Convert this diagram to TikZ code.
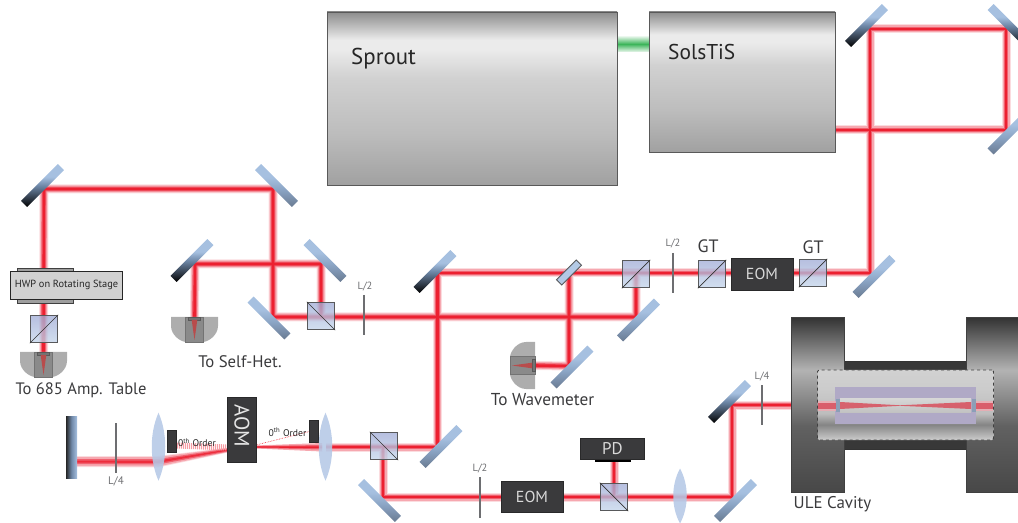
\documentclass[tikz,border=0pt]{standalone}
\usepackage{fontspec}
\setmainfont{PT Sans}
\usetikzlibrary{calc}
\pgfdeclarelayer{beams}
\pgfsetlayers{beams,main}
\definecolor{halo}{HTML}{FBDCDF}
\definecolor{halob}{HTML}{F6A8B0}
\definecolor{mid}{HTML}{F0606E}
\definecolor{core}{HTML}{EC2030}
\definecolor{mblue}{HTML}{A6C0E0}
\definecolor{mslate}{HTML}{6A7B92}
\definecolor{mmid}{HTML}{6F88A8}
\definecolor{boxdark}{HTML}{3A3A3C}
\definecolor{edge}{HTML}{58595B}
\definecolor{lensblue}{HTML}{B5C8E6}
\definecolor{txt}{HTML}{3A3A3C}
\definecolor{wpgrey}{HTML}{6D6E71}
\definecolor{spacerc}{HTML}{B0A9C6}
\definecolor{greenc}{HTML}{3CB55A}
\pgfdeclareverticalshading{mirblack}{100bp}{color(0bp)=(black);color(25bp)=(black);color(32bp)=(black!70!mmid);color(50bp)=(mmid);color(60bp)=(mblue);color(100bp)=(mblue)}
\pgfdeclareverticalshading{mirslate}{100bp}{color(0bp)=(mslate);color(25bp)=(mslate);color(45bp)=(mmid!50!mblue);color(60bp)=(mblue);color(100bp)=(mblue)}
\pgfdeclareverticalshading{housing}{100bp}{color(0bp)=(black!37);color(25bp)=(black!37);color(40bp)=(black!26);color(56bp)=(black!18);color(64bp)=(black!8);color(67bp)=(black!8);color(75bp)=(black!45);color(100bp)=(black!45)}
\pgfdeclareverticalshading{flange}{100bp}{color(0bp)=(black!72);color(25bp)=(black!72);color(44bp)=(black!62);color(60bp)=(black!30);color(75bp)=(black!80);color(100bp)=(black!80)}
\pgfdeclareverticalshading{insetsh}{100bp}{color(0bp)=(black!20);color(25bp)=(black!20);color(36bp)=(black!48);color(44bp)=(black!26);color(62bp)=(black!20);color(75bp)=(black!18);color(100bp)=(black!18)}
\tikzset{
  x=1bp,y=-1bp,
  beamwide/.style={draw=halo,line width=9bp,line join=miter},
  beamwideb/.style={draw=halob,line width=7bp,line join=miter},
  beammid/.style={draw=mid,line width=4.8bp,line join=miter},
  beamcore/.style={draw=core,line width=2.6bp,line join=miter},
  mirrorbar/.style={rectangle,inner sep=0pt,minimum width=52bp,minimum height=8.5bp},
  bscube/.style={rectangle,inner sep=0pt,minimum width=27.5bp,minimum height=27.5bp,draw=edge,line width=.9bp,top color=mblue!90!violet,bottom color=mblue!65!white,fill opacity=.78},
  darkbox/.style={rectangle,inner sep=0pt,fill=boxdark,draw=boxdark!70!black,line width=.8bp,text=black!15,align=center},
  plate/.style={draw=wpgrey,line width=1.3bp},
  wplab/.style={font=\fontsize{10.5}{12}\selectfont,text=wpgrey,inner sep=0pt},
  lab/.style={font=\fontsize{16.8}{20}\selectfont,text=txt,inner sep=0pt},
  gtlab/.style={font=\fontsize{18}{20}\selectfont,text=txt,inner sep=0pt},
  ordlab/.style={font=\fontsize{9.7}{11}\selectfont,text=black!85,inner sep=0pt},
  lensshape/.style={fill=lensblue,fill opacity=.88,draw=none},
}
% name, x, y, rotation (top of bar is the blue face), shading
\newcommand\mirr[5]{\node[mirrorbar,rotate=#4,shading=#5] (#1) at (#2,#3) {};}
\newcommand\bcube[4]{\node[bscube] (#1) at (#2,#3) {};
  \ifnum#4=1 \draw[black!80,line width=.7bp] (#1.south west)--(#1.north east);\else \draw[black!80,line width=.7bp] (#1.north west)--(#1.south east);\fi}
\newcommand\lens[4]{\coordinate (#1) at (#2,#3);
  \path[lensshape] ($(#1)+(0,-#4)$) .. controls ($(#1)+(9,-#4*.4)$) and ($(#1)+(9,#4*.4)$) .. ($(#1)+(0,#4)$) .. controls ($(#1)+(-9,#4*.4)$) and ($(#1)+(-9,-#4*.4)$) .. cycle;}
\newcommand\detector[4]{%
  \begin{scope}[shift={(#2,#3)},rotate=#4]
    \coordinate (#1) at (0,0);
    \fill[black!32] (-23.5,0)--(23.5,0)--(23.5,9) .. controls (23.5,18) and (14,25) .. (8,25)--(-8,25) .. controls (-14,25) and (-23.5,18) .. (-23.5,9)--cycle;
    \fill[black!46,draw=black!55,line width=.5bp] (-9,0) rectangle (9,25);
    \fill[black!55,draw=black!65,line width=.4bp] (-6,0) rectangle (6,3);
    \fill[red!60!black!70] (-2.8,3)--(2.8,3)--(0,23)--cycle;
  \end{scope}}
\begin{document}
\begin{tikzpicture}
\clip (0,0) rectangle (1018,523);
\useasboundingbox (0,0) rectangle (1018,523);

% Lasers
\node[rectangle,inner sep=0pt,minimum width=290bp,minimum height=173bp,draw=black!65,line width=.8bp,shading=housing] (sprout) at (472,98.5) {};
\node[anchor=west,font=\fontsize{23}{26}\selectfont,text=black!85,inner sep=0pt] (sproutl) at (351,58.5) {Sprout};
\node[rectangle,inner sep=0pt,minimum width=186bp,minimum height=140bp,draw=black!65,line width=.8bp,shading=housing] (solstis) at (742,82) {};
\node[anchor=west,font=\fontsize{21.5}{26}\selectfont,text=black!85,inner sep=0pt] (solstisl) at (668,52) {SolsTiS};

% Mirrors
\mirr{m1}{42.5}{185.5}{225}{mirblack}
\mirr{m2}{276.5}{185.5}{135}{mirslate}
\mirr{m3}{192}{260.5}{225}{mirblack}
\mirr{m4}{325}{260.5}{135}{mirslate}
\mirr{m5}{269}{318}{-45}{mirslate}
\mirr{m6}{435}{271.5}{225}{mirblack}
\mirr{m7}{441}{446.5}{45}{mirslate}
\mirr{m8}{638.5}{320}{45}{mirslate}
\mirr{m9}{572}{367}{45}{mirslate}
\mirr{m10}{874}{276.5}{45}{mirslate}
\mirr{m11}{866.5}{25.5}{225}{mirblack}
\mirr{m12}{1009}{25.5}{135}{mirblack}
\mirr{m13}{1009}{133}{45}{mirslate}
\mirr{m14}{379.5}{500.5}{-45}{mirslate}
\mirr{m15}{735.5}{500.5}{45}{mirslate}
\mirr{m16}{729.5}{401.5}{225}{mirblack}
\node[rectangle,inner sep=0pt,minimum width=11bp,minimum height=62bp,left color=black!85,right color=mblue,middle color=mmid] (endm) at (71.5,447) {};

% Beam corners
\coordinate (h1) at (1006,130);
\coordinate (h2) at (1006,29);
\coordinate (h3) at (870,29);
\coordinate (h4) at (870,273);
\coordinate (h5) at (437.5,273);
\coordinate (h6) at (437.5,447);
\coordinate (h7) at (383,497);
\coordinate (h8) at (732,497);
\coordinate (h9) at (732,405);
\coordinate (h10) at (636,317);
\coordinate (h11) at (273,317);
\coordinate (h12) at (273,189);
\coordinate (h13) at (44,189);
\coordinate (h14) at (321,264);
\coordinate (h15) at (195,264);
\coordinate (h16) at (569,366);

% Cavity
\node[rectangle,inner sep=0pt,minimum width=125bp,minimum height=88bp,draw=black!80,line width=.8bp,fill=black!78] (cavbody) at (905,405) {};
\node[rectangle,inner sep=0pt,minimum width=53bp,minimum height=175bp,draw=black!75,line width=.8bp,shading=flange] (flangeL) at (818,405) {};
\node[rectangle,inner sep=0pt,minimum width=53bp,minimum height=175bp,draw=black!75,line width=.8bp,shading=flange] (flangeR) at (992.5,405) {};
\node[rectangle,inner sep=0pt,rounded corners=1.5bp,minimum width=176bp,minimum height=70bp,draw=black!75,dashed,line width=.9bp,shading=insetsh] (inset) at (905.5,405) {};
\node[rectangle,inner sep=0pt,minimum width=141bp,minimum height=37bp,fill=spacerc] (spacer) at (905.5,405.5) {};
\node[rectangle,inner sep=0pt,minimum width=131bp,minimum height=13.5bp,top color=black!16,bottom color=black!24] (bore) at (905.5,405.5) {};
\fill[halob,opacity=.7] (817.5,400.5) rectangle (836,411);
\fill[halob,opacity=.7] (975,400.5) rectangle (993,411);
\fill[mid!90!black,opacity=.9] (840,402)--(900,405.3)--(971,402)--(971,409)--(900,405.8)--(840,409)--cycle;
\fill[mid!90!black,opacity=.9] (817.5,402.5) rectangle (836,409);
\fill[mid!90!black,opacity=.9] (975,402.5) rectangle (993,409);
\node[rectangle,inner sep=0pt,minimum width=4bp,minimum height=13bp,fill=mblue!80!black!95] (cm1) at (838,405.5) {};
\node[rectangle,inner sep=0pt,minimum width=4bp,minimum height=13bp,fill=mblue!80!black!95] (cm2) at (973.5,405.5) {};
\node[lab,font=\fontsize{17}{20}\selectfont] (cavl) at (832.5,504) {ULE Cavity};

% Beam splitter cubes
\bcube{gt2}{813}{273}{1}
\bcube{gt1}{712}{274}{1}
\bcube{pbs1}{636}{274}{1}
\bcube{pbs2}{321}{316}{0}
\bcube{pbs3}{44}{329}{1}
\bcube{pbs4}{384}{446}{0}
\bcube{pbs5}{614}{497}{0}
\node[gtlab] (gt2l) at (813,247) {GT};
\node[gtlab] (gt1l) at (708,246) {GT};

% Pick-off
\node[rectangle,inner sep=0pt,minimum width=28bp,minimum height=7.5bp,rotate=45,draw=edge,line width=.8bp,fill=mblue!85!white] (pick) at (569,272.5) {};

% EOMs, PD, AOM
\node[darkbox,minimum width=62bp,minimum height=32bp,font=\fontsize{16}{18}\selectfont] (eom1) at (762,274) {EOM};
\node[darkbox,minimum width=62bp,minimum height=31bp,font=\fontsize{16}{18}\selectfont] (eom2) at (532,497) {EOM};
\fill[black] (595,459) rectangle (631,462);
\node[darkbox,minimum width=63.5bp,minimum height=21bp,font=\fontsize{17}{20}\selectfont] (pd) at (612.5,449) {PD};
\coordinate (pdb) at (614,461);
\node[darkbox,minimum width=28.5bp,minimum height=65.5bp] (aom) at (242,430) {};
\node[rotate=-90,text=black!10,font=\fontsize{21}{22}\selectfont,inner sep=0pt] (aoml) at (242,426) {AOM};
\node[darkbox,minimum width=8.5bp,minimum height=22bp] (blk1) at (172,441.7) {};
\node[darkbox,minimum width=8.5bp,minimum height=22bp] (blk2) at (314,431.5) {};
\node[ordlab] (ord1) at (197,442.7) {0\textsuperscript{th} Order};
\node[ordlab] (ord2) at (287.5,432) {0\textsuperscript{th} Order};

% Lenses
\lens{l1}{158.5}{446.7}{34}
\lens{l2}{325.5}{446.7}{34}
\lens{l3}{680}{496}{27.5}

% Wave plates
\coordinate (wa) at (364,295);\coordinate (wb) at (364,335);\draw[plate] (wa)--(wb);
\node[wplab] (wl1) at (365,287) {L/2};
\coordinate (wc) at (673,253);\coordinate (wd) at (673,293);\draw[plate] (wc)--(wd);
\node[wplab] (wl2) at (673,244) {L/2};
\coordinate (we) at (480,477);\coordinate (wf) at (480,518);\draw[plate] (we)--(wf);
\node[wplab] (wl3) at (480,469) {L/2};
\coordinate (wg) at (762,385);\coordinate (wh) at (762,425);\draw[plate] (wg)--(wh);
\node[wplab] (wl4) at (762,377) {L/4};
\coordinate (wi) at (116,423);\coordinate (wj) at (116,473);\draw[plate] (wi)--(wj);
\node[wplab,font=\fontsize{11}{12}\selectfont] (wl5) at (116,481) {L/4};

% HWP stage
\node[rectangle,inner sep=0pt,minimum width=56bp,minimum height=35bp,fill=black!38,draw=black!75,line width=.7bp] (stagetab) at (45,285.5) {};
\node[rectangle,inner sep=0pt,minimum width=111bp,minimum height=28.5bp,fill=black!18,draw=black!85,line width=1bp,font=\fontsize{10.4}{12}\selectfont,text=black!85] (stage) at (66.5,285.3) {HWP on Rotating Stage};

% Detectors
\detector{d1}{43.5}{352}{0}
\detector{d2}{194.5}{317}{0}
\detector{d3}{535}{365.5}{-90}

% Labels
\node[lab,font=\fontsize{16.6}{20}\selectfont] (dl1) at (81,390) {To 685 Amp. Table};
\node[lab] (dl2) at (240,362) {To Self-Het.};
\node[lab,font=\fontsize{17.3}{20}\selectfont] (dl3) at (542.5,400) {To Wavemeter};

% Beams under everything
\begin{pgfonlayer}{beams}
\foreach \st in {beamwide,beamwideb,beammid,beamcore}{
  \draw[\st] (solstis.east |- h1)--(h1)--(h2)--(h3)--(h4)--(h5)--(h6)--(h6 -| pbs4.center);
  \draw[\st] (h6 -| h7)--(h7)--(h8)--(h9)--(flangeL.west |- h9);
  \draw[\st] (h6 -| pbs4.center)--(h6 -| l2);
  \draw[\st] (pick.center |- h5)--(h16)--(d3);
  \draw[\st] (h4 -| pbs1.center)--(h10)--(h11)--(h12)--(h13)--(d1);
  \draw[\st] (h10 -| pbs2.center)--(h14)--(h15)--(d2);
  \draw[\st] (pbs5.center)--(pdb);
}
% Beam through the AOM arm
\fill[halo] (77,456)--(158,456)--(228,447.5)--(228,452.5)--(158,467.5)--(77,467)--cycle;
\fill[halob] (77,457)--(158,457)--(228,448)--(228,452)--(158,466.5)--(77,466)--cycle;
\fill[mid] (77,459)--(158,459)--(228,448.5)--(228,451.5)--(158,464.5)--(77,464)--cycle;
\fill[core!80!mid] (77,460.5)--(158,460.5)--(228,449.5)--(228,450.5)--(158,463)--(77,462.5)--cycle;
\fill[halob] (256,445.5)--(322,443)--(322,451.5)--(256,448.5)--cycle;
\fill[mid] (256,446)--(322,445)--(322,449.5)--(256,448)--cycle;
\fill[core] (256,446.5)--(322,446.3)--(322,448.2)--(256,447.5)--cycle;
\draw[core!45!white,line width=6bp,dash pattern=on 1bp off 1bp] (177,445.5)--(228,447.5);
\draw[core,line width=.6bp,densely dotted] (256,445)--(blk2.west);
% Green pump
\node[rectangle,inner sep=0pt,minimum width=32bp,minimum height=16bp,top color=greenc!10!white,bottom color=greenc!10!white,middle color=greenc] (pump) at (633,44) {};
\end{pgfonlayer}
\end{tikzpicture}
\end{document}
